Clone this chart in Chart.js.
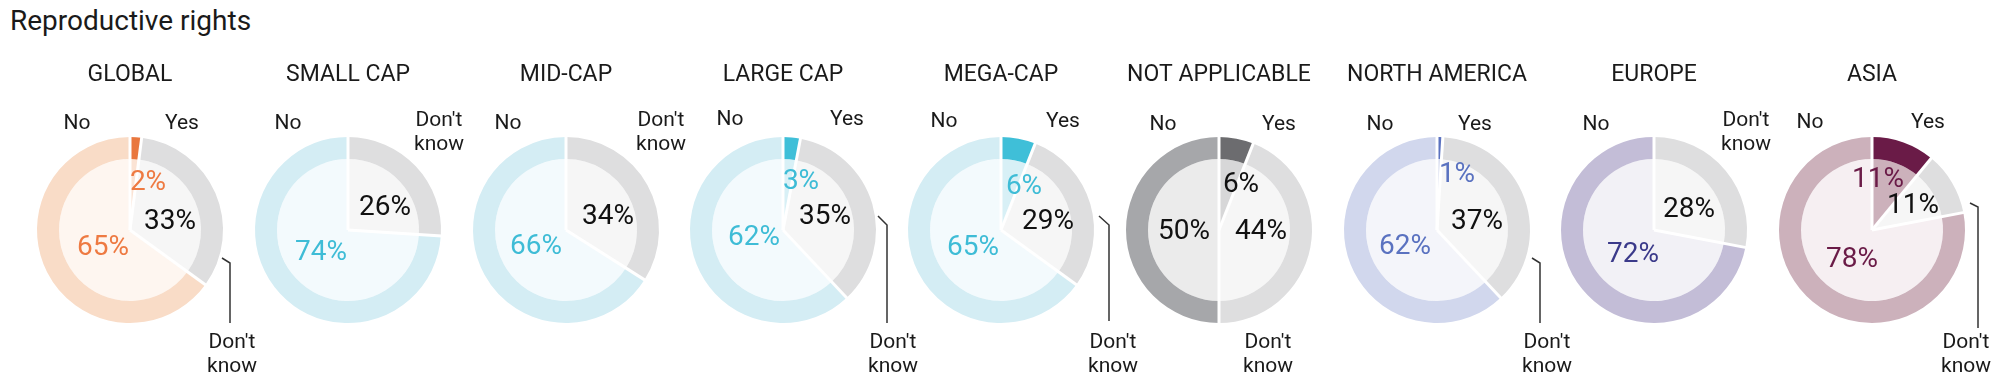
<!DOCTYPE html>
<html>
<head>
<meta charset="utf-8">
<script src="https://cdn.jsdelivr.net/npm/chart.js@4.4.1/dist/chart.umd.min.js"></script>
<style>
  body { margin: 0; background: #fff; width: 2000px; height: 392px; overflow: hidden; position: relative; font-family: Roboto, sans-serif; }
  #title { position: absolute; left: 10px; top: 5px; font-size: 28px; line-height: 32px; color: #1a1a1a; }
  canvas.donut { position: absolute; top: 0; }
</style>
</head>
<body>
<div id="title">Reproductive rights</div>
<div id="charts"></div>
<script>
// survey groups, left to right
const categories = ['GLOBAL', 'SMALL CAP', 'MID-CAP', 'LARGE CAP', 'MEGA-CAP', 'NOT APPLICABLE', 'NORTH AMERICA', 'EUROPE', 'ASIA'];
// share of answers (%), slices run clockwise from the top: yes, don't know, no
const yesValues = [2, 0, 0, 3, 6, 6, 1, 0, 11];
const dontKnowValues = [33, 26, 34, 35, 29, 44, 37, 28, 11];
const noValues = [65, 74, 66, 62, 65, 50, 62, 72, 78];

// colour sets
const palettes = {
    orange: { noOuter: '#F9DCC7', noInner: '#FEF6F0', yesOuter: '#E9773E', yesInner: '#FBE3D4', text: '#EE7A42' },
    cyan:   { noOuter: '#D4EDF4', noInner: '#F3FAFD', yesOuter: '#3FBFD8', yesInner: '#D8F0F6', text: '#3EBCD6' },
    grey:   { noOuter: '#A6A7AA', noInner: '#EBEBEB', yesOuter: '#6C6C6F', yesInner: '#D7D7D8', text: '#111111' },
    blue:   { noOuter: '#D1D7ED', noInner: '#F4F5FA', yesOuter: '#5B72C0', yesInner: '#D1D7ED', text: '#5A72C0' },
    lilac:  { noOuter: '#C3BDD7', noInner: '#F2F1F6', yesOuter: '#3B3A8A', yesInner: '#C3BDD7', text: '#3B3A8A' },
    plum:   { noOuter: '#CCB1BB', noInner: '#F6EFF2', yesOuter: '#6A1B47', yesInner: '#CCB1BB', text: '#6A1B47' }
};
const chartPalette = ['orange', 'cyan', 'cyan', 'cyan', 'cyan', 'grey', 'blue', 'lilac', 'plum'];
const dkOuter = '#DEDEDF';
const dkInner = '#F6F6F6';

// annotation placement, relative to each donut centre
const layouts = [
    { no: -53, yes: 52, labelY: -106, dk: { type: 'leader', from: [92, 28], kink: [100, 33], end: 93, x: 102 }, pct: { yes: [18, -47], dk: [40, -8], no: [-27, 18] } },
    { no: -60, labelY: -106, dk: { type: 'top', x: 91 }, pct: { dk: [37, -22], no: [-27, 23] } },
    { no: -58, labelY: -106, dk: { type: 'top', x: 95 }, pct: { dk: [42, -13], no: [-30, 17] } },
    { no: -53, yes: 64, labelY: -110, dk: { type: 'leader', from: [95, -14], kink: [104, -5], end: 93, x: 110 }, pct: { yes: [18, -48], dk: [42, -13], no: [-29, 8] } },
    { no: -57, yes: 62, labelY: -108, dk: { type: 'leader', from: [98, -14], kink: [108, -5], end: 91, x: 112 }, pct: { yes: [23, -43], dk: [47, -8], no: [-28, 18] } },
    { no: -56, yes: 60, labelY: -105, dk: { type: 'bottom', x: 49 }, pct: { yes: [22, -45], dk: [42, 2], no: [-35, 2] } },
    { no: -57, yes: 38, labelY: -105, dk: { type: 'leader', from: [95, 28], kink: [103, 33], end: 93, x: 110 }, pct: { yes: [20, -55], dk: [40, -8], no: [-32, 17] } },
    { no: -58, labelY: -105, dk: { type: 'top', x: 92 }, pct: { dk: [35, -20], no: [-21, 25] } },
    { no: -62, yes: 56, labelY: -107, dk: { type: 'leader', from: [98, -27], kink: [106, -23], end: 98, x: 94 }, pct: { yes: [6, -50], dk: [41, -24], no: [-20, 30] } }
];

const firstCentre = 130;
const step = 217.75;
const canvasW = 300;
const canvasH = 392;
const centreY = 230;
const radius = 93;
const font = 'Roboto, sans-serif';

// separators and texts drawn on top of the arcs
const donutAnnotations = {
    id: 'donutAnnotations',
    afterDatasetsDraw(chart, args, opts) {
        const ctx = chart.ctx;
        const meta = chart.getDatasetMeta(0);
        const cx = meta.data[0].x;
        const cy = meta.data[0].y;
        const R = meta.data[0].outerRadius;
        const pal = palettes[chartPalette[opts.index]];
        const lay = layouts[opts.index];

        // white cuts between slices
        ctx.save();
        ctx.strokeStyle = '#ffffff';
        ctx.lineWidth = 3;
        meta.data.forEach(arc => {
            if (arc.endAngle - arc.startAngle <= 0) return;
            ctx.beginPath();
            ctx.moveTo(cx, cy);
            ctx.lineTo(cx + (R + 1) * Math.cos(arc.startAngle), cy + (R + 1) * Math.sin(arc.startAngle));
            ctx.stroke();
        });
        ctx.restore();

        ctx.save();
        ctx.textAlign = 'center';
        ctx.textBaseline = 'middle';
        ctx.fillStyle = '#1a1a1a';
        ctx.font = `23px ${font}`;
        ctx.fillText(categories[opts.index], cx, 75);

        // answer names
        ctx.font = `21px ${font}`;
        ctx.fillText('No', cx + lay.no, cy + lay.labelY);
        if (lay.yes !== undefined) ctx.fillText('Yes', cx + lay.yes, cy + lay.labelY);
        const dk = lay.dk;
        if (dk.type === 'top') {
            ctx.fillText("Don't", cx + dk.x, cy - 109);
            ctx.fillText('know', cx + dk.x, cy - 85);
        } else {
            ctx.fillText("Don't", cx + dk.x, cy + 113);
            ctx.fillText('know', cx + dk.x, cy + 137);
        }
        if (dk.type === 'leader') {
            ctx.strokeStyle = '#333333';
            ctx.lineWidth = 1.5;
            ctx.beginPath();
            ctx.moveTo(cx + dk.from[0], cy + dk.from[1]);
            ctx.lineTo(cx + dk.kink[0], cy + dk.kink[1]);
            ctx.lineTo(cx + dk.kink[0], cy + dk.end);
            ctx.stroke();
        }

        // percentages
        ctx.font = `28px ${font}`;
        const i = opts.index;
        if (yesValues[i] > 0) {
            ctx.fillStyle = pal.text;
            ctx.fillText(yesValues[i] + '%', cx + lay.pct.yes[0], cy + lay.pct.yes[1]);
        }
        ctx.fillStyle = '#111111';
        ctx.fillText(dontKnowValues[i] + '%', cx + lay.pct.dk[0], cy + lay.pct.dk[1]);
        ctx.fillStyle = pal.text;
        ctx.fillText(noValues[i] + '%', cx + lay.pct.no[0], cy + lay.pct.no[1]);
        ctx.restore();
    }
};

function create_donut(i) {
    const pal = palettes[chartPalette[i]];
    const cx = firstCentre + step * i;
    const canvas = document.createElement('canvas');
    canvas.className = 'donut';
    canvas.width = canvasW;
    canvas.height = canvasH;
    canvas.style.left = (cx - canvasW / 2) + 'px';
    document.getElementById('charts').appendChild(canvas);

    const values = [yesValues[i], dontKnowValues[i], noValues[i]];
    const side = (canvasW - 2 * radius) / 2;
    return new Chart(canvas, {
        type: 'doughnut',
        data: {
            labels: ['Yes', "Don't know", 'No'],
            datasets: [
                { data: values, backgroundColor: [pal.yesOuter, dkOuter, pal.noOuter], borderWidth: 0, weight: 22 },
                { data: values, backgroundColor: [pal.yesInner, dkInner, pal.noInner], borderWidth: 0, weight: 71 }
            ]
        },
        options: {
            responsive: false,
            animation: false,
            cutout: 0,
            layout: { padding: { left: side, right: side, top: centreY - radius, bottom: canvasH - centreY - radius } },
            plugins: {
                legend: { display: false },
                tooltip: { enabled: false },
                donutAnnotations: { index: i }
            }
        },
        plugins: [donutAnnotations]
    });
}

categories.forEach((c, i) => create_donut(i));
</script>
</body>
</html>
